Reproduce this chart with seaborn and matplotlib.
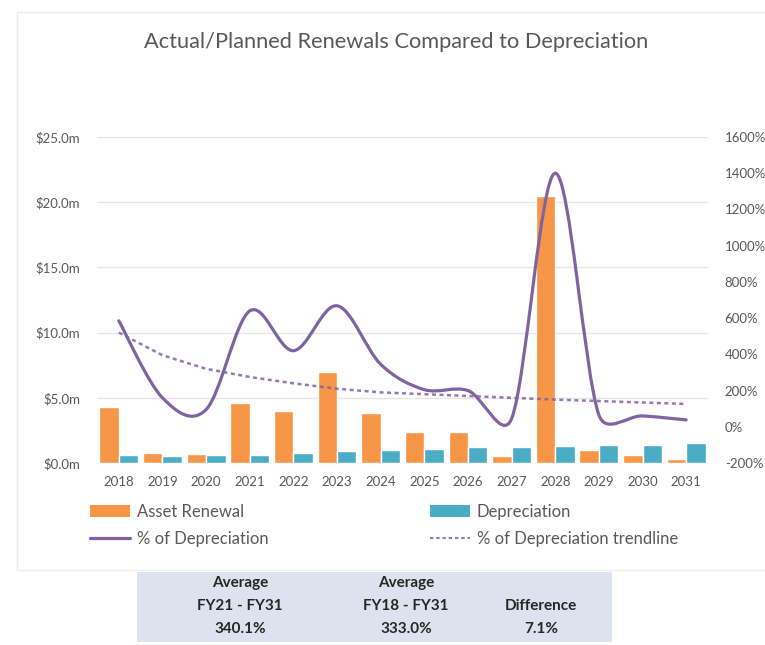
import matplotlib
matplotlib.use("Agg")
import matplotlib.pyplot as plt
from matplotlib.path import Path
from matplotlib.patches import PathPatch, Patch, Rectangle
from matplotlib.lines import Line2D
from matplotlib.ticker import FuncFormatter, MultipleLocator
import numpy as np
import pandas as pd
import seaborn as sns

# values
years = ["2018", "2019", "2020", "2021", "2022", "2023", "2024",
         "2025", "2026", "2027", "2028", "2029", "2030", "2031"]
asset_renewal = [4.3, 0.8, 0.7, 4.6, 4.0, 7.0, 3.8, 2.4, 2.4, 0.5, 20.5, 1.0, 0.6, 0.3]
depreciation = [0.6, 0.5, 0.6, 0.6, 0.8, 0.9, 1.0, 1.1, 1.2, 1.2, 1.3, 1.35, 1.35, 1.5]
pct_of_depreciation = [585, 160, 95, 640, 420, 668, 345, 205, 200, 45, 1400, 65, 60, 38]
pct_trendline = [520, 395, 320, 275, 240, 210, 190, 180, 170, 160, 150, 142, 134, 126]

summary_columns = [["Average", "FY21 - FY31", "340.1%"],
                   ["Average", "FY18 - FY31", "333.0%"],
                   ["", "Difference", "7.1%"]]

ORANGE = "#f79646"
TEAL = "#4bacc6"
PURPLE = "#8064a2"
GREY_TXT = "#595959"

sns.set_theme(style="white")
plt.rcParams["font.family"] = ["Lato", "DejaVu Sans"]

df = pd.DataFrame({
    "year": years * 2,
    "value": asset_renewal + depreciation,
    "series": ["Asset Renewal"] * len(years) + ["Depreciation"] * len(years),
})

fig = plt.figure(figsize=(7.65, 6.45), dpi=100)
fig.patch.set_facecolor("white")

# faint chart-area border
fig.patches.append(Rectangle((17 / 765, 1 - 570 / 645), 1.0, (570 - 12) / 645,
                             transform=fig.transFigure, fill=False,
                             edgecolor="#ececec", lw=1.0))

ax = fig.add_axes([97 / 765, 1 - 463 / 645, (708 - 97) / 765, (463 - 137) / 645])
sns.barplot(data=df, x="year", y="value", hue="series",
            palette=[ORANGE, TEAL], width=0.89, saturation=1,
            order=years, ax=ax, legend=False)
ax.set_ylim(0, 25)
ax.yaxis.set_major_locator(MultipleLocator(5))
ax.yaxis.set_major_formatter(FuncFormatter(lambda v, p: f"${v:.1f}m"))
ax.grid(axis="y", color="#e6e6e6", lw=1.0)
ax.set_axisbelow(True)
ax.set_xlabel("")
ax.set_ylabel("")
for s in ax.spines.values():
    s.set_visible(False)
ax.tick_params(axis="y", length=0, pad=12, labelsize=9.5, labelcolor=GREY_TXT)
ax.tick_params(axis="x", length=0, pad=9, labelsize=9.5, labelcolor=GREY_TXT)
ax.set_xlim(-0.5, len(years) - 0.5)

ax2 = ax.twinx()
ax2.set_ylim(-200, 1600)
ax2.yaxis.set_major_locator(MultipleLocator(200))
ax2.yaxis.set_major_formatter(FuncFormatter(lambda v, p: f"{v:.0f}%"))
ax2.tick_params(axis="y", length=0, pad=12, labelsize=9.5, labelcolor=GREY_TXT)
for s in ax2.spines.values():
    s.set_visible(False)
ax2.grid(False)
ax2.set_xlim(-0.5, len(years) - 0.5)

# smoothed line like Excel: bezier through the points (tension 1/6),
# control arms capped at half the segment length on screen
xs = np.arange(len(years), dtype=float)
ys = np.array(pct_of_depreciation, dtype=float)
pix = ax2.transData.transform(np.column_stack([xs, ys]))
n = len(pix)
verts = [tuple(pix[0])]
codes = [Path.MOVETO]
for i in range(n - 1):
    p0 = pix[max(i - 1, 0)]
    p1 = pix[i]
    p2 = pix[i + 1]
    p3 = pix[min(i + 2, n - 1)]
    d12 = np.hypot(*(p2 - p1))
    d02 = np.hypot(*(p2 - p0))
    d13 = np.hypot(*(p3 - p1))
    f0 = 1 / 6 if d02 / 6 < d12 / 2 else d12 / 2 / d02
    f1 = 1 / 6 if d13 / 6 < d12 / 2 else d12 / 2 / d13
    c1 = p1 + (p2 - p0) * f0
    c2 = p2 - (p3 - p1) * f1
    verts += [tuple(c1), tuple(c2), tuple(p2)]
    codes += [Path.CURVE4] * 3
data_verts = ax2.transData.inverted().transform(np.array(verts))
ax2.add_patch(PathPatch(Path(data_verts, codes), fill=False, edgecolor=PURPLE,
                        lw=2.3, capstyle="round", joinstyle="round", zorder=4))

sns.lineplot(x=xs, y=pct_trendline, ax=ax2, color=PURPLE, lw=1.8,
             dashes=False, zorder=3, alpha=0.85)
ax2.lines[-1].set_dashes([1.6, 1.4])

# title
fig.text(396 / 765, 1 - 42 / 645, "Actual/Planned Renewals Compared to Depreciation",
         ha="center", va="center", fontsize=15.7, color=GREY_TXT)

# legends (two columns)
leg_kw = dict(loc="upper left", frameon=False, fontsize=12, handlelength=2.4,
              handletextpad=0.4, labelspacing=0.65, borderpad=0, borderaxespad=0,
              labelcolor=GREY_TXT)
h_ar = Patch(facecolor=ORANGE, edgecolor="none")
h_dep = Patch(facecolor=TEAL, edgecolor="none")
h_pct = Line2D([], [], color=PURPLE, lw=2.3)
h_tr = Line2D([], [], color=PURPLE, lw=1.5, dashes=[1.6, 1.4], alpha=0.85)
fig.legend([h_ar, h_pct], ["Asset Renewal", "% of Depreciation"],
           bbox_to_anchor=(90 / 765, 1 - 504 / 645), **leg_kw)
fig.legend([h_dep, h_tr], ["Depreciation", "% of Depreciation trendline"],
           bbox_to_anchor=(430 / 765, 1 - 504 / 645), **leg_kw)

# summary table below the chart
fig.patches.append(Rectangle((137 / 765, 1 - 642 / 645), (612 - 137) / 765, (642 - 572) / 645,
                             transform=fig.transFigure, facecolor="#dde3ee",
                             edgecolor="none"))
col_x = [240, 406, 541]
row_y = [583, 606, 629]
for cx, col in zip(col_x, summary_columns):
    for ry, txt in zip(row_y, col):
        if txt:
            fig.text(cx / 765, 1 - ry / 645, txt, ha="center", va="center",
                     fontsize=11, fontweight="bold", color="#262626")

fig.savefig("out.png", dpi=100)
